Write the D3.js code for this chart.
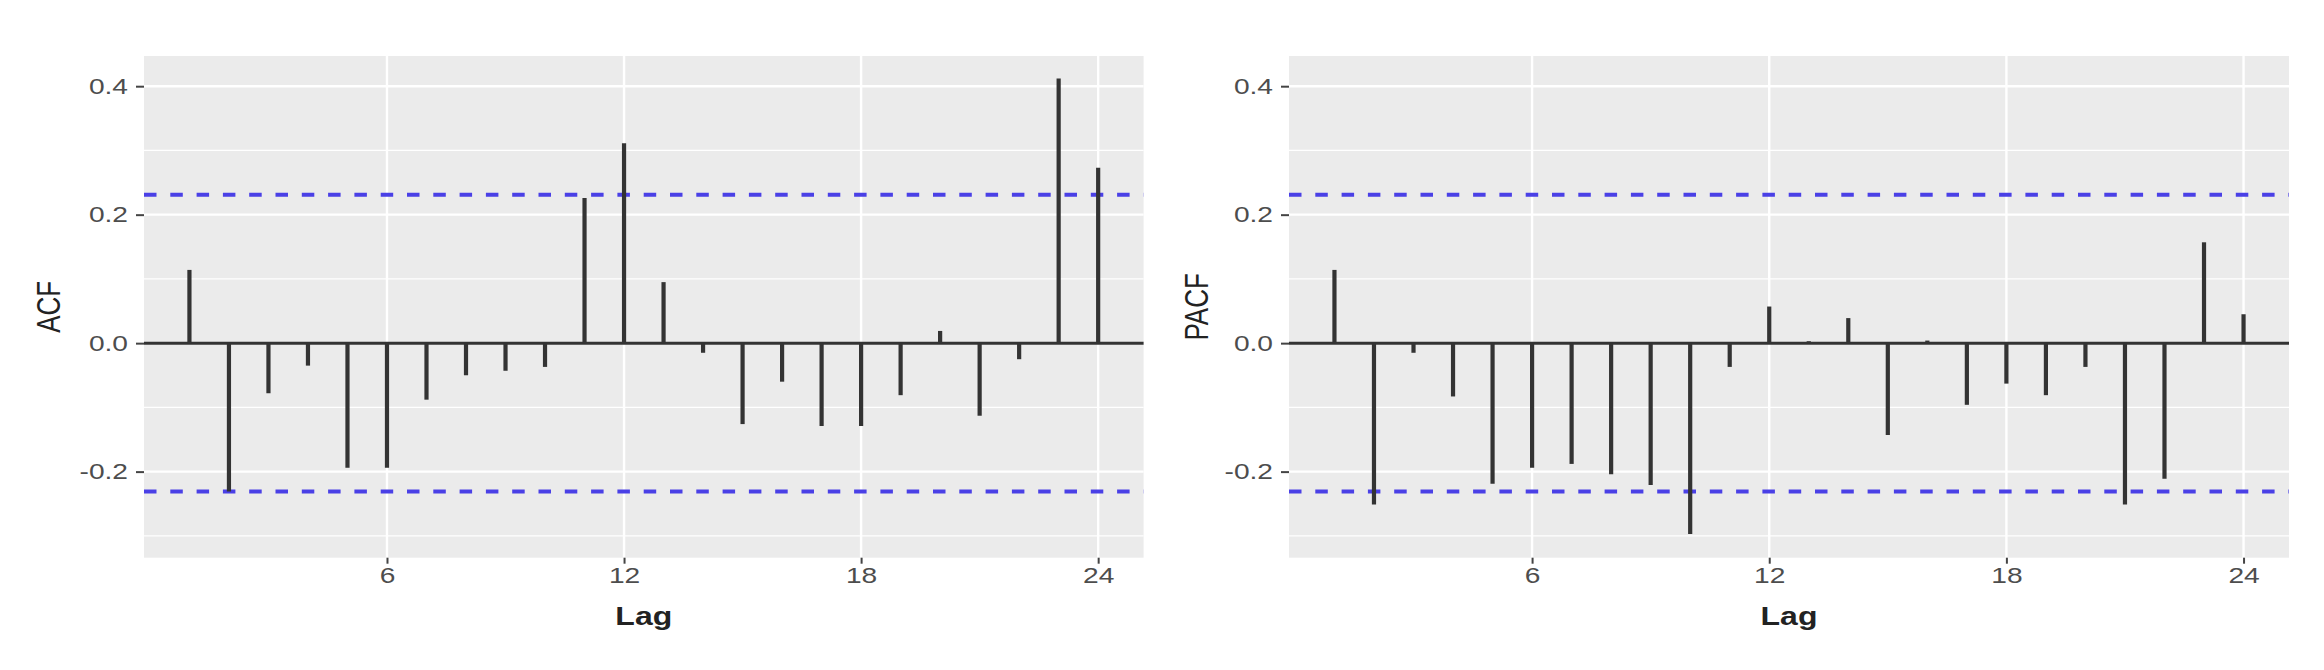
<!DOCTYPE html>
<html>
<head>
<meta charset="utf-8">
<script src="https://cdn.jsdelivr.net/npm/d3@7"></script>
<style>
  body { margin: 0; background: #fff; }
  svg { display: block; font-family: "Liberation Sans", Arial, sans-serif; }
</style>
</head>
<body>
<svg width="2324" height="670"></svg>
<script>
// values
var lags = [1, 2, 3, 4, 5, 6, 7, 8, 9, 10, 11, 12, 13, 14, 15, 16, 17, 18, 19, 20, 21, 22, 23, 24];
var acfValues = [0.114, -0.231, -0.078, -0.035, -0.194, -0.194, -0.088, -0.050, -0.043, -0.037, 0.226, 0.311,
                 0.095, -0.015, -0.126, -0.060, -0.129, -0.129, -0.081, 0.019, -0.113, -0.025, 0.412, 0.273];
var pacfValues = [0.114, -0.251, -0.015, -0.083, -0.219, -0.194, -0.188, -0.204, -0.221, -0.297, -0.037, 0.057,
                  0.003, 0.039, -0.143, 0.004, -0.096, -0.063, -0.081, -0.037, -0.251, -0.211, 0.157, 0.045];
var ciLimit = 0.231;
var xTicks = [6, 12, 18, 24];
var yTicks = [-0.2, 0.0, 0.2, 0.4];
var yMinor = [-0.3, -0.1, 0.1, 0.3];

var svg = d3.select("svg"),
    plotTop = 56, plotBottom = 557.7,
    stretch = 1.28;   // the picture is stretched sideways, text too

var y = d3.scaleLinear().domain([-0.334, 0.447]).range([plotBottom, plotTop]);

// plain hyphen for negatives, like R prints them
var yFormat = function(d) { return d.toFixed(1); };

function drawPanel(values, left, right, title, titleX) {
  var x = d3.scaleLinear().domain([-0.15, 25.15]).range([left, right]);
  var g = svg.append("g");

  g.append("rect")
      .attr("x", left).attr("y", plotTop)
      .attr("width", right - left).attr("height", plotBottom - plotTop)
      .attr("fill", "#ebebeb");

  // grid
  g.selectAll(".minor").data(yMinor).enter().append("line")
      .attr("x1", left).attr("x2", right)
      .attr("y1", function(d) { return y(d); }).attr("y2", function(d) { return y(d); })
      .attr("stroke", "#fff").attr("stroke-width", 1.2);
  g.selectAll(".majorY").data(yTicks).enter().append("line")
      .attr("x1", left).attr("x2", right)
      .attr("y1", function(d) { return y(d); }).attr("y2", function(d) { return y(d); })
      .attr("stroke", "#fff").attr("stroke-width", 2.4);
  g.selectAll(".majorX").data(xTicks).enter().append("line")
      .attr("y1", plotTop).attr("y2", plotBottom)
      .attr("x1", function(d) { return x(d); }).attr("x2", function(d) { return x(d); })
      .attr("stroke", "#fff").attr("stroke-width", 2.4);

  // confidence bounds
  g.selectAll(".ci").data([ciLimit, -ciLimit]).enter().append("line")
      .attr("x1", left).attr("x2", right)
      .attr("y1", function(d) { return y(d); }).attr("y2", function(d) { return y(d); })
      .attr("stroke", "#4a40e6").attr("stroke-width", 4)
      .attr("stroke-dasharray", "12.5,13.8");

  // zero line and spikes
  g.append("line")
      .attr("x1", left).attr("x2", right)
      .attr("y1", y(0)).attr("y2", y(0))
      .attr("stroke", "#333").attr("stroke-width", 3);

  g.selectAll(".spike").data(values).enter().append("line")
      .attr("x1", function(d, i) { return x(lags[i]); })
      .attr("x2", function(d, i) { return x(lags[i]); })
      .attr("y1", y(0))
      .attr("y2", function(d) { return y(d); })
      .attr("stroke", "#333").attr("stroke-width", 4.2);

  // axes
  var ax = g.append("g")
      .attr("transform", "translate(0," + plotBottom + ")")
      .call(d3.axisBottom(x).tickValues(xTicks).tickSize(6).tickPadding(4).tickFormat(d3.format("d")));
  ax.select(".domain").remove();
  ax.selectAll("line").attr("stroke", "#444").attr("stroke-width", 2);
  ax.selectAll("text")
      .attr("fill", "#4d4d4d").style("font-size", "22px")
      .attr("transform", "scale(" + stretch + ",1)");

  var ay = g.append("g")
      .attr("transform", "translate(" + left + ",0)")
      .call(d3.axisLeft(y).tickValues(yTicks).tickSize(8).tickFormat(yFormat));
  ay.select(".domain").remove();
  ay.selectAll("line").attr("stroke", "#444").attr("stroke-width", 2);
  ay.selectAll("text")
      .attr("x", -12.5)
      .attr("fill", "#4d4d4d").style("font-size", "22px")
      .attr("transform", "scale(" + stretch + ",1)");

  g.append("text")
      .attr("transform", "translate(" + (left + right) / 2 + ",625) scale(" + stretch + ",1)")
      .attr("text-anchor", "middle")
      .attr("fill", "#222")
      .style("font-size", "25px")
      .style("font-weight", "bold")
      .text("Lag");

  g.append("text")
      .attr("transform", "translate(" + titleX + "," + (plotTop + plotBottom) / 2 + ") scale(" + stretch + ",1) rotate(-90)")
      .attr("text-anchor", "middle")
      .attr("fill", "#222")
      .style("font-size", "26px")
      .text(title);
}

drawPanel(acfValues, 144, 1143.6, "ACF", 60);
drawPanel(pacfValues, 1289, 2289, "PACF", 1208);
</script>
</body>
</html>
